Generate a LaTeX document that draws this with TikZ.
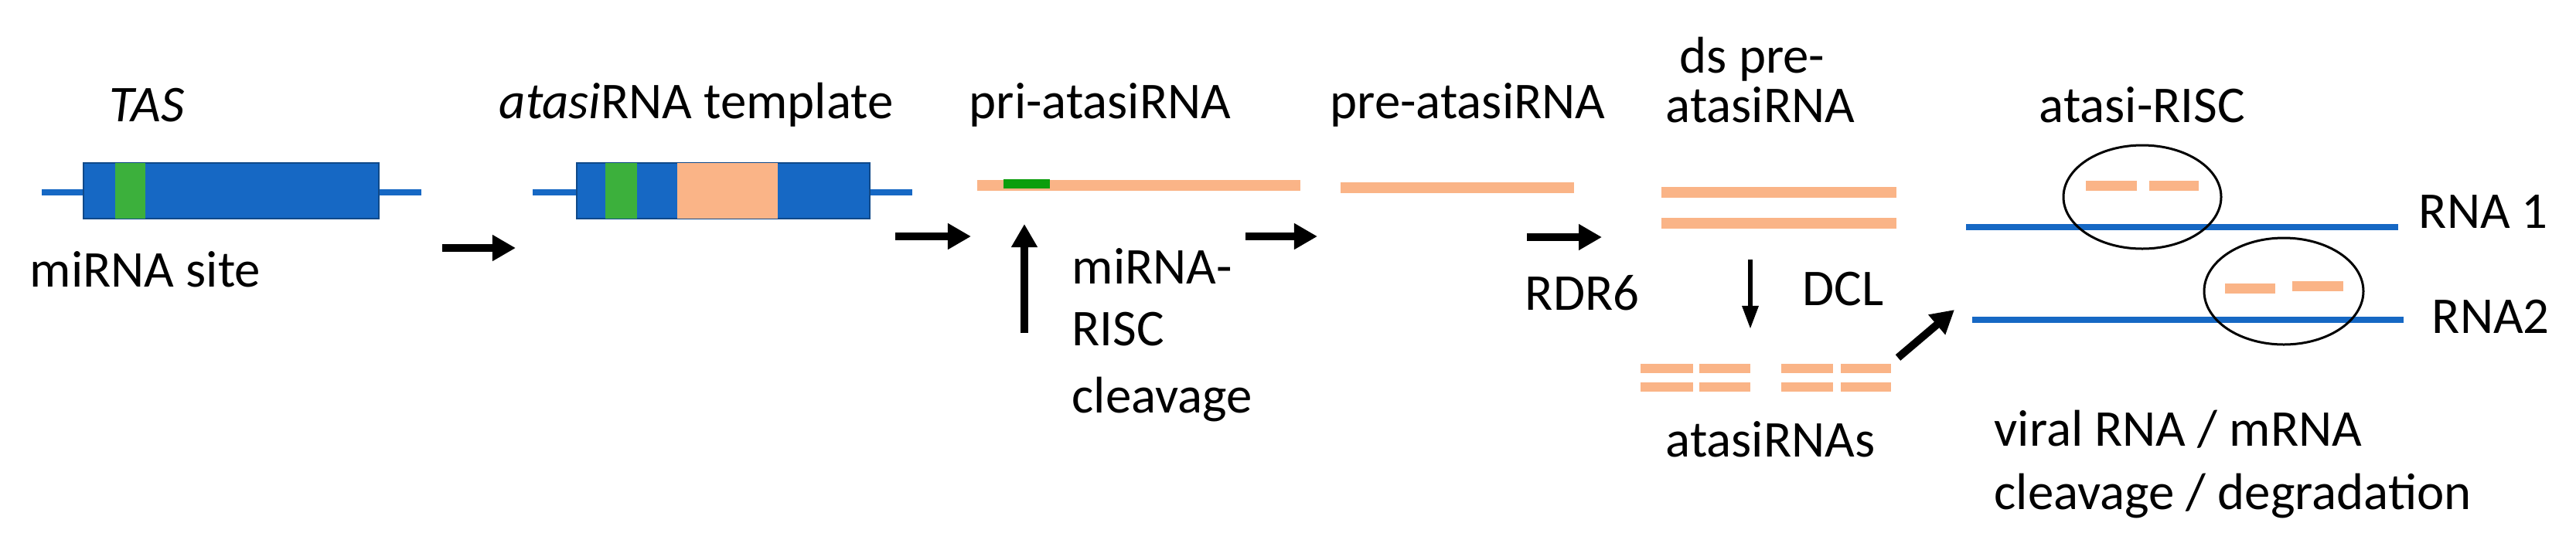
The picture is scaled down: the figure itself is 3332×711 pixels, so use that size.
\documentclass[tikz,border=0pt]{standalone}
\usepackage{fontspec}
\setmainfont{Carlito}
\usetikzlibrary{arrows.meta}
\definecolor{dblue}{RGB}{22,104,196}
\definecolor{salmon}{RGB}{250,180,135}
\definecolor{gr}{RGB}{60,176,60}
\begin{document}
\begin{tikzpicture}[x=0.01cm,y=-0.01cm,
  lbl/.style={font=\fontsize{19}{23}\selectfont, inner sep=0pt},
  bl/.style={dblue, line width=8\pgflinewidth, line width=0.08cm},
  sal/.style={salmon, line width=0.14cm},
  arr/.style={line width=0.1cm, -{Triangle[length=0.3cm,width=0.32cm]}},
  thin/.style={line width=0.06cm, -{Triangle[length=0.3cm,width=0.2cm]}},
  ring/.style={draw, line width=0.03cm, ellipse}]
\useasboundingbox (0,0) rectangle (3332,711);
% TAS
\node[lbl, anchor=west, font=\fontsize{19}{23}\selectfont\itshape] (tas) at (141,136) {TAS};
\draw[bl] (54,249) -- (545,249);
\fill[dblue] (108,211) rectangle (490,283);
\draw[dblue!70!black, line width=0.02cm] (108,211) rectangle (490,283);
\fill[gr] (149,211) rectangle (188,283);
\node[lbl, anchor=west] (site) at (38,349) {miRNA site};
\coordinate (a1s) at (572,321); \coordinate (a1e) at (667,321);
\draw[arr] (a1s) -- (a1e);
% template
\node[lbl, anchor=west] (tmpl) at (645,136) {\textit{atasi}RNA template};
\draw[bl] (689,249) -- (1180,249);
\fill[dblue] (746,211) rectangle (1125,283);
\draw[dblue!70!black, line width=0.02cm] (746,211) rectangle (1125,283);
\fill[gr] (783,211) rectangle (824,283);
\fill[salmon] (876,211) rectangle (1006,283);
\coordinate (a2s) at (1158,306); \coordinate (a2e) at (1256,306);
\draw[arr] (a2s) -- (a2e);
% pri
\node[lbl, anchor=west] (pri) at (1253,136) {pri-atasiRNA};
\draw[sal] (1264,240) -- (1682,240);
\fill[green!60!black!80!gr] (1298,232) rectangle (1358,244);
\coordinate (a3s) at (1325,431); \coordinate (a3e) at (1325,290);
\draw[arr] (a3s) -- (a3e);
\node[lbl, anchor=west] (m1) at (1386,345) {miRNA-};
\node[lbl, anchor=west] (m2) at (1386,426) {RISC};
\node[lbl, anchor=west] (m3) at (1386,517) {cleavage};
\coordinate (a4s) at (1611,306); \coordinate (a4e) at (1704,306);
\draw[arr] (a4s) -- (a4e);
% pre
\node[lbl, anchor=west] (pre) at (1720,136) {pre-atasiRNA};
\draw[sal] (1734,243) -- (2036,243);
\coordinate (a5s) at (1975,307); \coordinate (a5e) at (2072,307);
\draw[arr] (a5s) -- (a5e);
\node[lbl, anchor=west] (rdr) at (1972,379) {RDR6};
% ds
\node[lbl, anchor=west] (ds1) at (2172,77) {ds pre-};
\node[lbl, anchor=west] (ds2) at (2154,136) {atasiRNA};
\draw[sal] (2149,249) -- (2453,249);
\draw[sal] (2149,289) -- (2453,289);
\coordinate (a6s) at (2264,336); \coordinate (a6e) at (2264,426);
\draw[thin] (a6s) -- (a6e);
\node[lbl, anchor=west] (dcl) at (2331,374) {DCL};
\foreach \xa/\xb in {2122/2190,2198/2264,2304/2371,2381/2446}{
  \draw[salmon, line width=0.12cm] (\xa,477) -- (\xb,477);
  \draw[salmon, line width=0.12cm] (\xa,501) -- (\xb,501);}
\node[lbl, anchor=west] (sirnas) at (2154,569) {atasiRNAs};
\coordinate (a7s) at (2455,463); \coordinate (a7e) at (2528,401);
\draw[arr] (a7s) -- (a7e);
% RISC
\node[lbl, anchor=west] (risc) at (2637,136) {atasi-RISC};
\draw[bl] (2543,294) -- (3102,294);
\node[lbl, anchor=west] (r1) at (3128,274) {RNA 1};
\draw[bl] (2551,414) -- (3109,414);
\node[lbl, anchor=west] (r2) at (3145,410) {RNA2};
\draw[line width=0.03cm] (2771,255) ellipse [x radius=102, y radius=67];
\draw[line width=0.03cm] (2954,377) ellipse [x radius=103, y radius=69];
\draw[salmon, line width=0.13cm] (2698,240) -- (2764,240) (2780,240) -- (2844,240);
\draw[salmon, line width=0.13cm] (2878,373) -- (2943,373) (2965,370) -- (3031,370);
\node[lbl, anchor=west] (v1) at (2579,556) {viral RNA / mRNA};
\node[lbl, anchor=west] (v2) at (2579,642) {cleavage / degradation};
\end{tikzpicture}
\end{document}
